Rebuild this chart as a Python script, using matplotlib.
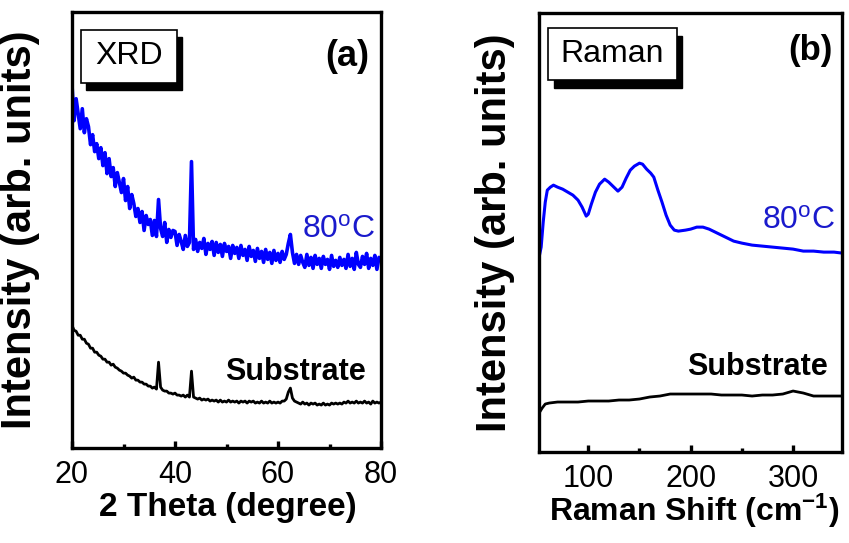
import numpy as np
import matplotlib.pyplot as plt
from matplotlib.patches import Rectangle

plt.rcParams['font.family'] = ['Liberation Sans', 'DejaVu Sans']
plt.rcParams['mathtext.default'] = 'regular'

# XRD data, 2theta sampled every 0.4 degree from 20 to 80
xrd_theta = np.linspace(20, 80, 151)
xrd_80c = [
    364, 328, 350, 335, 320, 340, 316, 330, 322, 304,
    314, 297, 305, 290, 301, 283, 296, 275, 290, 272,
    281, 262, 276, 266, 256, 270, 248, 262, 240, 254,
    245, 232, 240, 226, 237, 218, 233, 224, 229, 213,
    228, 212, 249, 220, 212, 226, 206, 219, 211, 218,
    217, 203, 214, 207, 199, 213, 202, 206, 287, 199,
    209, 197, 206, 200, 210, 194, 205, 199, 207, 193,
    206, 196, 204, 192, 205, 197, 202, 190, 203, 195,
    201, 190, 203, 193, 199, 188, 202, 192, 198, 187,
    200, 190, 197, 186, 199, 189, 196, 185, 198, 188,
    195, 186, 197, 189, 194, 205, 214, 196, 185, 194,
    184, 193, 186, 181, 194, 183, 191, 180, 193, 184,
    190, 180, 192, 184, 189, 179, 193, 182, 188, 181,
    191, 183, 189, 180, 194, 182, 190, 179, 196, 184,
    181, 192, 184, 195, 180, 190, 183, 193, 179, 191,
    188,
]
xrd_sub = [
    123, 118, 117, 113, 113, 109, 109, 105, 104, 100,
    100, 96, 96, 93, 92, 89, 89, 86, 86, 83,
    84, 81, 80, 78, 77, 75, 75, 73, 72, 70,
    71, 68, 68, 66, 66, 64, 64, 62, 62, 60,
    61, 59, 86, 61, 58, 57, 57, 55, 55, 54,
    55, 53, 53, 52, 53, 51, 53, 51, 77, 51,
    50, 49, 50, 48, 49, 48, 49, 47, 48, 47,
    48, 46, 48, 46, 47, 46, 48, 46, 47, 46,
    47, 45, 47, 46, 47, 45, 47, 46, 47, 45,
    46, 45, 47, 45, 46, 45, 47, 45, 46, 45,
    46, 45, 47, 47, 49, 56, 60, 50, 47, 46,
    45, 44, 46, 44, 45, 43, 45, 44, 45, 43,
    44, 43, 45, 43, 44, 43, 45, 44, 45, 44,
    45, 44, 46, 45, 47, 45, 46, 45, 47, 45,
    46, 45, 47, 45, 46, 44, 47, 45, 46, 45,
    46,
]

# Raman data
raman_shift = [52, 54, 56, 58, 60, 63, 66, 70, 75, 80, 85, 90, 94, 98, 100,
               103, 107, 111, 116, 120, 124, 129, 133, 137, 141, 145, 150, 153,
               157, 161, 164, 168, 172, 176, 180, 184, 188, 195, 200, 206, 212,
               218, 224, 230, 236, 242, 250, 260, 270, 280, 290, 300, 310, 320,
               330, 340, 348]
raman_80c = [195, 205, 230, 250, 262, 265, 267, 265, 263, 260, 257, 252, 245,
             236, 238, 248, 260, 268, 273, 270, 266, 261, 265, 274, 282, 286,
             289, 288, 283, 279, 275, 262, 250, 237, 227, 222, 221, 222, 223,
             225, 225, 223, 220, 217, 214, 211, 209, 207, 206, 205, 204, 203,
             201, 201, 200, 200, 199]
raman_sub_x = [52, 55, 58, 62, 70, 80, 90, 100, 110, 120, 130, 140, 150, 160,
               170, 180, 190, 200, 210, 220, 230, 240, 250, 260, 270, 280, 290,
               300, 305, 310, 320, 330, 340, 348]
raman_sub = [39, 44, 48, 49, 50, 50, 50, 51, 51, 51, 52, 52, 53, 55, 56, 58,
             58, 58, 58, 58, 57, 57, 57, 56, 57, 57, 58, 61, 60, 59, 56, 56,
             56, 56]

fig = plt.figure(figsize=(8.49, 5.43), dpi=100)
ax1 = fig.add_axes([0.0848, 0.175, 0.364, 0.803])
ax2 = fig.add_axes([0.635, 0.1676, 0.357, 0.808])

blue = '#0000ff'
tblue = '#1a1acc'

ax1.plot(xrd_theta, xrd_80c, color=blue, lw=2.6)
ax1.plot(xrd_theta, xrd_sub, color='black', lw=2.0)
ax1.set_xlim(20, 80)
ax1.set_ylim(0, 437)
ax1.set_xticks([20, 40, 60, 80])
ax1.set_xticks([30, 50, 70], minor=True)

ax2.plot(raman_shift, raman_80c, color=blue, lw=2.2)
ax2.plot(raman_sub_x, raman_sub, color='black', lw=2.0)
ax2.set_xlim(52, 348)
ax2.set_ylim(0, 439)
ax2.set_xticks([100, 200, 300])
ax2.set_xticks([150, 250], minor=True)

for ax in (ax1, ax2):
    for s in ax.spines.values():
        s.set_linewidth(2.4)
    ax.set_yticks([])
    ax.tick_params(axis='x', which='major', direction='in', length=5, width=2.4,
                   labelsize=22, pad=9)
    ax.tick_params(axis='x', which='minor', direction='in', length=3, width=2.4)
    ax.set_ylabel('Intensity (arb. units)', fontsize=30, fontweight='bold')

ax1.yaxis.set_label_coords(-0.104, 0.5)
ax2.yaxis.set_label_coords(-0.079, 0.5)
ax1.set_xlabel('2 Theta (degree)', fontsize=24, fontweight='bold')
ax2.set_xlabel('Raman Shift (cm$^{-1}$)', fontsize=23, fontweight='bold')
ax1.xaxis.set_label_coords(0.503, -0.101)
ax2.xaxis.set_label_coords(0.51, -0.091)


def label_box(ax, x0, y0, x1, y1, dx, dy, text, size):
    ax.add_patch(Rectangle((x0 + dx, y0 - dy), x1 - x0, y1 - y0, transform=ax.transAxes,
                           facecolor='black', edgecolor='black', lw=1, zorder=4))
    ax.add_patch(Rectangle((x0, y0), x1 - x0, y1 - y0, transform=ax.transAxes,
                           facecolor='white', edgecolor='black', lw=1.2, zorder=5))
    ax.text((x0 + x1) / 2, (y0 + y1) / 2, text, transform=ax.transAxes,
            ha='center', va='center', fontsize=size, zorder=6)


label_box(ax1, 0.029, 0.837, 0.340, 0.959, 0.016, 0.016, 'XRD', 23)
label_box(ax2, 0.030, 0.847, 0.455, 0.966, 0.018, 0.018, 'Raman', 23)

ax1.text(0.89, 0.897, '(a)', transform=ax1.transAxes, ha='center', va='center',
         fontsize=26, fontweight='bold')
ax2.text(0.894, 0.916, '(b)', transform=ax2.transAxes, ha='center', va='center',
         fontsize=25, fontweight='bold')

ax1.text(0.861, 0.50, '80$^{o}$C', transform=ax1.transAxes, ha='center', va='center',
         fontsize=23, color=tblue)
ax2.text(0.855, 0.526, '80$^{o}$C', transform=ax2.transAxes, ha='center', va='center',
         fontsize=23, color=tblue)
ax1.text(0.722, 0.174, 'Substrate', transform=ax1.transAxes, ha='center', va='center',
         fontsize=22, fontweight='bold')
ax2.text(0.72, 0.194, 'Substrate', transform=ax2.transAxes, ha='center', va='center',
         fontsize=22, fontweight='bold')

fig.savefig('out.png', dpi=100)
